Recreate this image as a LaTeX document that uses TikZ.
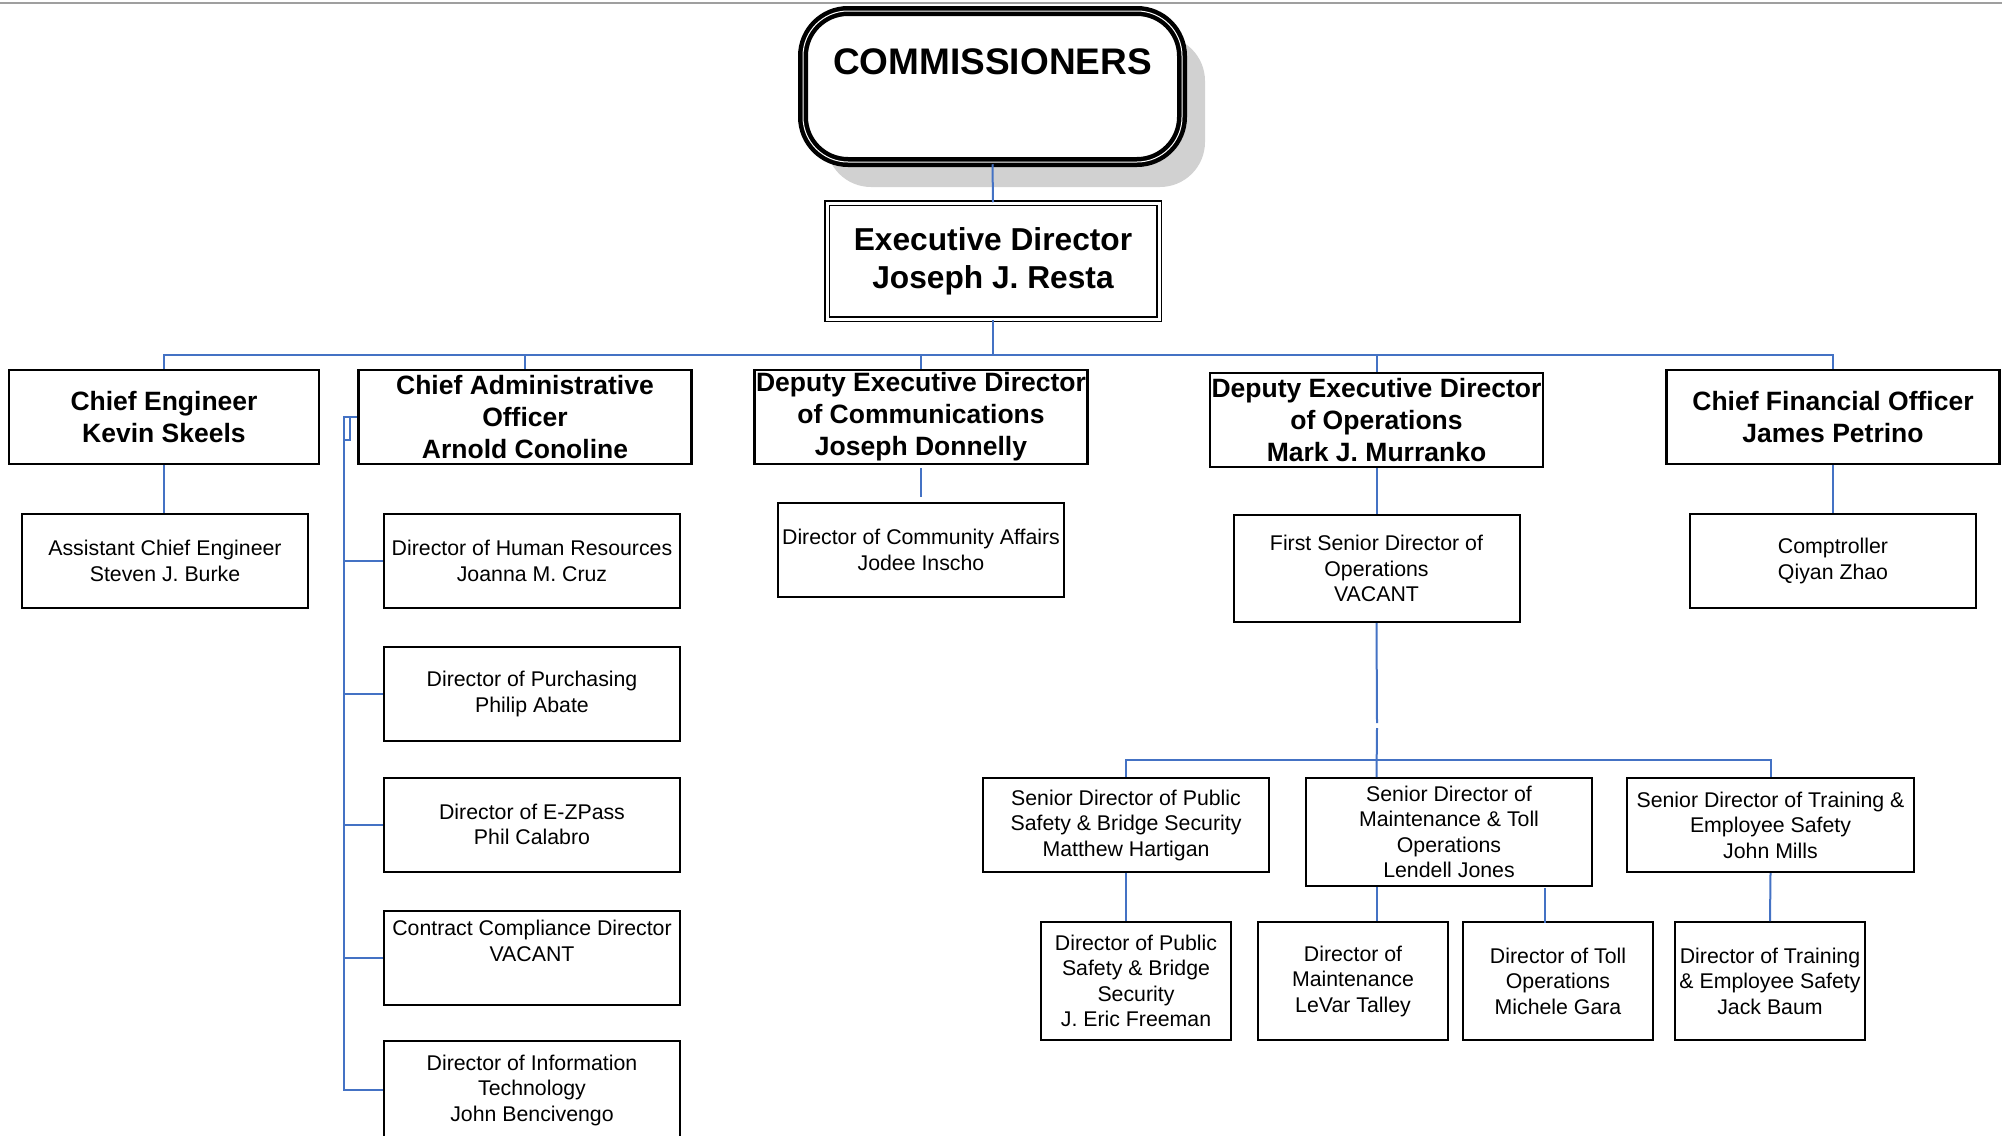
\documentclass[tikz,border=0pt]{standalone}
\usepackage{fontspec}
\setmainfont{Liberation Sans}
\usepackage{xcolor}
\usetikzlibrary{positioning, calc, shadows}
\definecolor{linkblue}{HTML}{4472C4}
\tikzset{
	chiefbox/.style={rectangle, draw, line width=2.5pt, align=center, minimum width=333pt, minimum height=94pt, inner sep=0pt, font=\fontsize{26.5}{32}\selectfont\bfseries},
	staffbox/.style={rectangle, draw, line width=2pt, align=center, minimum width=286pt, minimum height=94pt, inner sep=0pt, font=\fontsize{21.3}{25.5}\selectfont},
	link/.style={draw=linkblue, line width=2pt}
}

\begin{document}
\begin{tikzpicture}[
		x=1pt, y=-1pt,
		commbox/.style={rectangle, rounded corners=45pt, draw, fill=white, line width=4.5pt, double=white, double distance=1pt, minimum width=379pt, minimum height=151pt, drop shadow={shadow xshift=23pt, shadow yshift=-25pt, fill=black!18, opacity=1}},
		execbox/.style={rectangle, draw, line width=1.5pt, double=white, double distance=3pt, minimum width=332pt, minimum height=116pt, align=center, font=\fontsize{31.7}{38}\selectfont\bfseries},
		smallbox/.style={staffbox, minimum width=190pt, minimum height=118pt}
		]
		\clip (0,0) rectangle (2002,1135);
		
		% --- Page rule ---
		\coordinate (rule_left) at (0,2.5);
		\coordinate (rule_right) at (2002,2.5);
		\draw[gray!75, line width=2pt] (rule_left) -- (rule_right);
		
		% --- Top of the chart ---
		\node[commbox] (commissioners) at (992.5,86.5) {};
		\node[anchor=base, font=\fontsize{37}{44}\selectfont\bfseries] (comm_title) at (992.5,74) {COMMISSIONERS};
		\node[execbox] (exec) at (993,261) {Executive Director\\Joseph J. Resta};
		
		% --- Second level ---
		\node[chiefbox, minimum width=310pt] (chief_eng) at (164,417) {Chief Engineer\\Kevin Skeels};
		\node[chiefbox] (cao) at (525,417) {Chief Administrative\\Officer\\Arnold Conoline};
		\node[chiefbox] (ded_comm) at (921,417) {Deputy Executive Director\\of Communications\\Joseph Donnelly};
		\node[chiefbox] (ded_ops) at (1376.5,420) {Deputy Executive Director\\of Operations\\Mark J. Murranko};
		\node[chiefbox] (cfo) at (1833,417) {Chief Financial Officer\\James Petrino};
		
		% --- Third level ---
		\node[staffbox] (asst_eng) at (165,561) {Assistant Chief Engineer\\Steven J. Burke};
		\node[staffbox, minimum width=296pt] (hr) at (532,561) {Director of Human Resources\\Joanna M. Cruz};
		\node[staffbox, minimum width=296pt] (purchasing) at (532,694) {Director of Purchasing\\Philip Abate};
		\node[staffbox, minimum width=296pt] (ezpass) at (532,824.5) {Director of E-ZPass\\Phil Calabro};
		\node[staffbox, minimum width=296pt] (compliance) at (532,957.5) {Contract Compliance Director\\VACANT\\\strut};
		\node[staffbox, minimum width=296pt, minimum height=98pt] (it_dir) at (532,1090) {Director of Information\\Technology\\John Bencivengo};
		\node[staffbox] (community) at (921,550) {Director of Community Affairs\\Jodee Inscho};
		\node[staffbox, minimum height=107pt] (first_sr) at (1376.5,568.5) {First Senior Director of\\Operations\\VACANT};
		\node[staffbox] (comptroller) at (1833,561) {Comptroller\\Qiyan Zhao};
		
		% --- Operations branch ---
		\node[staffbox] (sr_safety) at (1126,825) {Senior Director of Public\\Safety \& Bridge Security\\Matthew Hartigan};
		\node[staffbox, minimum height=108pt] (sr_maint) at (1449,832) {Senior Director of\\Maintenance \& Toll\\Operations\\Lendell Jones};
		\node[staffbox, minimum width=287pt] (sr_train) at (1770.5,825) {Senior Director of Training \&\\Employee Safety\\John Mills};
		\node[smallbox] (dir_safety) at (1136,981) {Director of Public\\Safety \& Bridge\\Security\\J. Eric Freeman};
		\node[smallbox] (dir_maint) at (1353,981) {Director of\\Maintenance\\LeVar Talley};
		\node[smallbox] (dir_toll) at (1558,981) {Director of Toll\\Operations\\Michele Gara};
		\node[smallbox] (dir_train) at (1770,981) {Director of Training\\\& Employee Safety\\Jack Baum};
		
		% --- Top connections ---
		\coordinate (bus) at (993,355);
		\draw[link] (commissioners.south) -- (exec.north);
		\draw[link] (exec.south) -- (bus);
		\draw[link] (chief_eng.north) |- (bus) -| (cfo.north);
		\draw[link] (cao.north) -- (cao.north |- bus);
		\draw[link] (ded_comm.north) -- (ded_comm.north |- bus);
		\draw[link] (ded_ops.north) -- (ded_ops.north |- bus);
		
		% --- Second to third level ---
		\draw[link] (chief_eng.south) -- (chief_eng.south |- asst_eng.north);
		\draw[link, shorten <=3pt, shorten >=5pt] (ded_comm.south) -- (community.north);
		\draw[link] (ded_ops.south) -- (first_sr.north);
		\draw[link] (cfo.south) -- (comptroller.north);
		
		% --- Administrative column ---
		\coordinate (cao_spine) at (344,417);
		\draw[link] (cao.west) -- (cao_spine) -- (cao_spine |- it_dir.west) -- (it_dir.west);
		\draw[link] ($(cao_spine)+(6,0)$) -- ++(0,23) -- ++(-6,0);
		\draw[link] (cao_spine |- hr.west) -- (hr.west);
		\draw[link] (cao_spine |- purchasing.west) -- (purchasing.west);
		\draw[link] (cao_spine |- ezpass.west) -- (ezpass.west);
		\draw[link] (cao_spine |- compliance.west) -- (compliance.west);
		
		% --- Operations connections ---
		\coordinate (ops_bus) at (1377,760);
		\coordinate (ops_gap) at (1377,725.5);
		\draw[link] (first_sr.south) -- ($(ops_gap)+(0,-2.5)$);
		\draw[link] ($(ops_gap)+(0,2.5)$) -- (first_sr.south |- sr_maint.north);
		\draw[link] (sr_safety.north) |- (ops_bus) -| (sr_train.north);
		\draw[link] (sr_safety.south) -- (sr_safety.south |- dir_safety.north);
		\draw[link] (first_sr.south |- sr_maint.south) -- (first_sr.south |- dir_maint.north);
		\coordinate (toll_tap) at (1545,888);
		\draw[link] (toll_tap) -- ($(toll_tap |- dir_toll.north)+(0,2)$);
		\draw[link] (sr_train.south) -- (dir_train.north);
		
	\end{tikzpicture}
\end{document}
